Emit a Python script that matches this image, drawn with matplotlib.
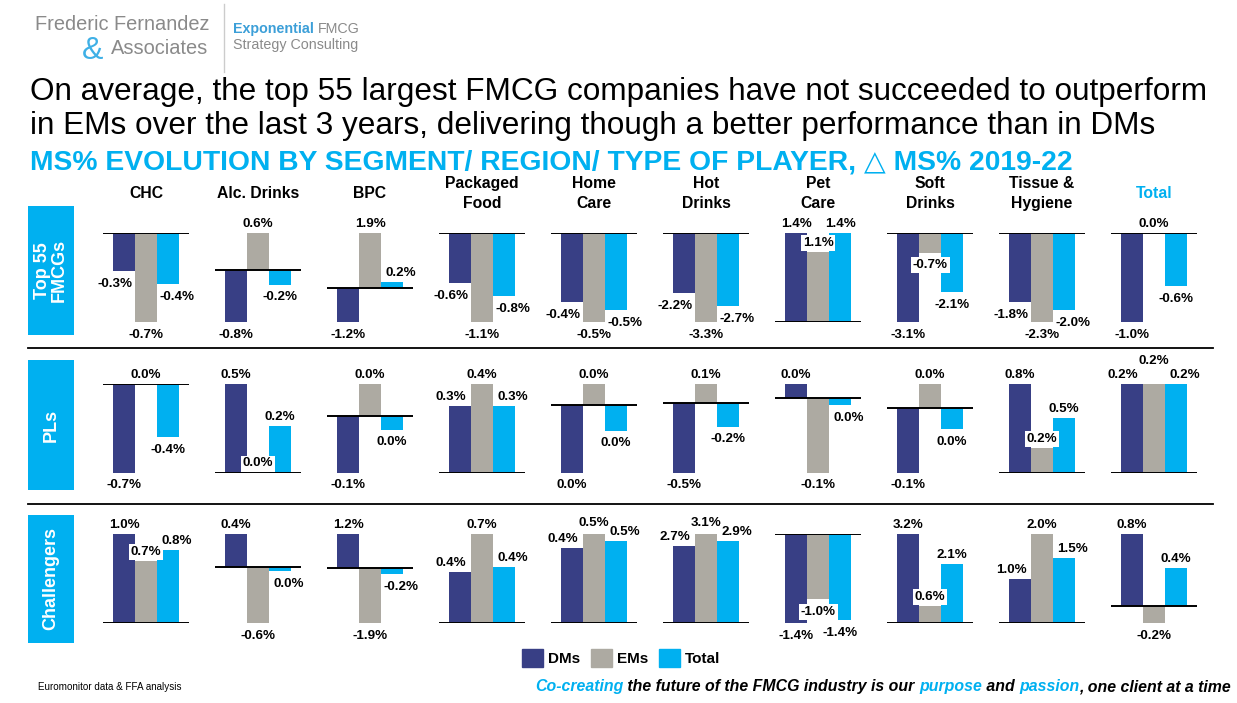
import matplotlib.pyplot as plt
from matplotlib.patches import Patch, Rectangle
from matplotlib.lines import Line2D

categories = ['CHC', 'Alc. Drinks', 'BPC', 'Packaged\nFood', 'Home\nCare', 'Hot\nDrinks',
              'Pet\nCare', 'Soft\nDrinks', 'Tissue &\nHygiene', 'Total']
players = ['Top 55\nFMCGs', 'PLs', 'Challengers']
series = ['DMs', 'EMs', 'Total']

# MS% change 2019-22 (pts)
top55_dms = [-0.30, -0.80, -1.17, -0.62, -0.42, -2.22, 1.40, -3.10, -1.79, -1.00]
top55_ems = [-0.70, 0.58, 1.90, -1.10, -0.54, -3.30, 1.10, -0.68, -2.30, 0.00]
top55_total = [-0.40, -0.22, 0.20, -0.78, -0.47, -2.72, 1.40, -2.07, -2.00, -0.60]

pls_dms = [-0.70, 0.46, -0.08, 0.30, -0.04, -0.50, 0.02, -0.10, 0.80, 0.198]
pls_ems = [0.00, 0.00, 0.045, 0.40, 0.013, 0.14, -0.10, 0.039, 0.22, 0.20]
pls_total = [-0.42, 0.24, -0.02, 0.30, -0.015, -0.17, -0.009, -0.032, 0.49, 0.198]

chal_dms = [1.00, 0.36, 1.20, 0.40, 0.42, 2.68, -1.40, 3.20, 0.98, 0.80]
chal_ems = [0.70, -0.60, -1.90, 0.70, 0.50, 3.10, -1.02, 0.62, 2.00, -0.19]
chal_total = [0.82, -0.04, -0.20, 0.44, 0.46, 2.86, -1.36, 2.11, 1.46, 0.42]

data = [(top55_dms, top55_ems, top55_total),
        (pls_dms, pls_ems, pls_total),
        (chal_dms, chal_ems, chal_total)]

colors = ['#383F85', '#ADAAA2', '#00B0F0']
blue = '#00B0F0'

W, H = 1237, 703
plt.rcParams['font.family'] = ['Liberation Sans', 'DejaVu Sans']
fig = plt.figure(figsize=(W / 100, H / 100), dpi=100)
rend = fig.canvas.get_renderer()


def fx(x):
    return x / W


def fy(y):
    return 1 - y / H


def label(v):
    return '%.1f%%' % (round(v, 1) + 0.0)


def text_w(s, **kw):
    t = fig.text(0, 0, s + '|', **kw)
    w1 = t.get_window_extent(rend).width
    t.remove()
    t = fig.text(0, 0, '|', **kw)
    w2 = t.get_window_extent(rend).width
    t.remove()
    return w1 - w2


def fit_size(s, width, **kw):
    return 10 * width / text_w(s, fontsize=10, **kw)


# ---- small multiples
bar_px = 22
col_x0, col_step = 113, 112
row_top = [233, 383.5, 534]
panel_h = 89
lab_h = 15
lab_fs = 9.6
digit_h = 9.7

for r, (dms, ems, tot) in enumerate(data):
    for c in range(len(categories)):
        vals = [dms[c], ems[c], tot[c]]
        lo, hi = min(0, min(vals)), max(0, max(vals))
        left = col_x0 + c * col_step - 0.45 * bar_px
        ax = fig.add_axes([fx(left), fy(row_top[r] + panel_h), 3.9 * bar_px / W, panel_h / H])
        ax.bar([-1, 0, 1], vals, width=1, color=colors, clip_on=False)
        ax.axhline(0, color='black', lw=1.4, zorder=3)
        ax.set_xlim(-1.95, 1.95)
        ax.set_ylim(lo, hi)
        ax.axis('off')

        ppu = panel_h / (hi - lo)
        ends = [v * ppu for v in vals]
        e = ends[1]
        dx = [0, 0, 0]
        for j, d in ((0, -9), (2, 9)):
            same = (ends[j] >= 0) == (e >= 0)
            if same and abs(e) + lab_h > abs(ends[j]) + 1:
                dx[j] = d
        lift = 0
        for j in (0, 2):
            if dx[j] and abs(abs(ends[j]) - abs(e)) < 3:
                lift = lab_h - 1
            elif dx[j] and abs(abs(ends[j]) - abs(e)) < 8:
                lift = max(lift, 2)
        for j, v in enumerate(vals):
            off = 6 + (lift if j == 1 else 0)
            dy = off if v >= 0 else -(off + digit_h)
            ax.annotate(label(v), xy=(j - 1, v), xytext=(dx[j], dy),
                        textcoords='offset pixels', ha='center', va='baseline',
                        fontsize=lab_fs, fontweight='bold', zorder=5,
                        annotation_clip=False,
                        bbox=dict(boxstyle='square,pad=0.15', fc='white', ec='none'))

# column titles
for c, cat in enumerate(categories):
    fig.text(fx(col_x0 + c * col_step + 33), fy(193.5), cat, ha='center', va='center',
             fontsize=11.3, fontweight='bold', linespacing=1.35,
             color=blue if cat == 'Total' else 'black')

# row label boxes
row_boxes = [(206, 335), (360, 490), (515, 643)]
for (y0, y1), name in zip(row_boxes, players):
    fig.add_artist(Rectangle((fx(28), fy(y1)), 46 / W, (y1 - y0) / H,
                             transform=fig.transFigure, color=blue, lw=0))
    fig.text(fx(51), fy((y0 + y1) / 2), name, rotation=90, ha='center', va='center',
             color='white', fontsize=13, fontweight='bold', linespacing=1.0)

# row separators
for y in (348, 504):
    fig.add_artist(Line2D([fx(28), fx(1213)], [fy(y), fy(y)], transform=fig.transFigure,
                          color='black', lw=1.3))

# ---- titles
t1 = 'On average, the top 55 largest FMCG companies have not succeeded to outperform'
t2 = 'in EMs over the last 3 years, delivering though a better performance than in DMs'
fs = fit_size(t1, 1180)
fig.text(fx(30), fy(100), t1, fontsize=fs, va='baseline')
fig.text(fx(30), fy(134), t2, fontsize=fs, va='baseline')
sub = 'MS% EVOLUTION BY SEGMENT/ REGION/ TYPE OF PLAYER, \u25b3 MS% 2019-22'
fs = fit_size(sub, 1038, fontweight='bold')
fig.text(fx(30), fy(169), sub, fontsize=fs, fontweight='bold', color=blue, va='baseline')

# ---- logo
grey = '#8A8A8A'
fs = fit_size('Frederic Fernandez', 176)
fig.text(fx(35), fy(30), 'Frederic Fernandez', fontsize=fs, color=grey, va='baseline')
fig.text(fx(111), fy(54), 'Associates', fontsize=fs, color=grey, va='baseline')
fig.text(fx(82), fy(59), '&', fontsize=fs * 1.6, color='#3FB0E6', va='baseline')
fig.add_artist(Line2D([fx(224), fx(224)], [fy(4), fy(72)], transform=fig.transFigure,
                      color='#CCCCCC', lw=1))
fs2 = fit_size('Strategy Consulting', 125)
fig.text(fx(233), fy(33), 'Exponential', fontsize=fs2, color='#3C9FD8', va='baseline',
         fontweight='bold')
wexp = text_w('Exponential ', fontsize=fs2, fontweight='bold')
fig.text(fx(233 + wexp), fy(33), 'FMCG', fontsize=fs2, color=grey, va='baseline')
fig.text(fx(233), fy(49), 'Strategy Consulting', fontsize=fs2, color=grey, va='baseline')

# ---- legend
handles = [Patch(color=col) for col in colors]
fig.legend(handles, series, loc='center', bbox_to_anchor=(fx(621), fy(658)), ncol=3,
           frameon=False, handlelength=1.4, handleheight=1.35, handletextpad=0.3,
           columnspacing=0.7, prop=dict(weight='bold', size=11))

# ---- footer
fs = fit_size('Euromonitor data & FFA analysis', 145)
fig.text(fx(38), fy(690), 'Euromonitor data & FFA analysis', fontsize=fs, va='baseline')

segs = [('Co-creating', blue), (' the future of the FMCG industry is our ', 'black'),
        ('purpose', blue), (' and ', 'black'), ('passion', blue),
        (', one client at a time', 'black')]
kw = dict(fontweight='bold', fontstyle='italic')
full = ''.join(s for s, _ in segs)
fs = fit_size(full, 694, **kw)
x0 = 1231 - text_w(full, fontsize=fs, **kw)
prefix = ''
for s, col in segs:
    x = x0 + (text_w(prefix, fontsize=fs, **kw) if prefix else 0)
    fig.text(fx(x), fy(691), s, fontsize=fs, color=col, va='baseline', **kw)
    prefix += s

fig.savefig('out.png', dpi=100)
